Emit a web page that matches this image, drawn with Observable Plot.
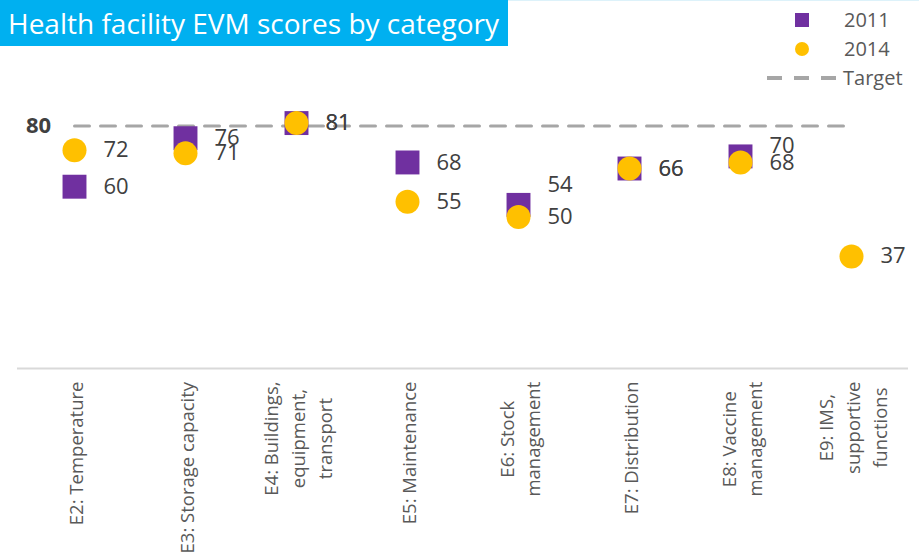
<!DOCTYPE html>
<html>
<head>
<meta charset="utf-8">
<script src="https://cdn.jsdelivr.net/npm/d3@7"></script>
<script src="https://cdn.jsdelivr.net/npm/@observablehq/plot@0.6"></script>
<style>
  body { margin: 0; background: #fff; font-family: "Open Sans", sans-serif; }
  #wrap { position: relative; width: 919px; height: 559px; overflow: hidden; }
  #wrap svg.plot { position: absolute; left: 0; top: 0; }
  #title { position: absolute; left: 0; top: 0; width: 508px; height: 46px; background: #00B0F0; color: #fff;
           font-size: 28px; line-height: 46px; padding-left: 8px; box-sizing: border-box; white-space: nowrap; z-index: 2; }
  #topline { position: absolute; left: 508px; top: 0; width: 411px; height: 1px; background: #DDF2FA; z-index: 2; }
  .leg { position: absolute; z-index: 2; }
  .leg svg { display: block; }
  .legtxt { position: absolute; z-index: 2; font-size: 20px; color: #595959; height: 28px; line-height: 28px; white-space: nowrap; }
</style>
</head>
<body>
<div id="wrap">
  <div id="title">Health facility EVM scores by category</div>
  <div id="topline"></div>
</div>
<script>
// ---- data ----
const categories = [
  "E2: Temperature",
  "E3: Storage capacity",
  "E4: Buildings,\nequipment,\ntransport",
  "E5: Maintenance",
  "E6: Stock\nmanagement",
  "E7: Distribution",
  "E8: Vaccine\nmanagement",
  "E9: IMS,\nsupportive\nfunctions"
];
const scores2011 = [60, 76, 81, 68, 54, 66, 70, null];
const scores2014 = [72, 71, 81, 55, 50, 66, 68, 37];
const target = 80;
const seriesNames = ["2011", "2014"];
const targetName = "Target";

// ---- styling ----
const purple = "#7030A0", gold = "#FFC000", gray = "#A6A6A6", textCol = "#404040";
// manual label nudges (pixels) for crowded labels, as in the original
const labelNudge = { "E6: Stock\nmanagement": -20, "E8: Vaccine\nmanagement": -10 };

const rows11 = categories.map((c, i) => ({cat: c, v: scores2011[i]})).filter(d => d.v != null);
const rows14 = categories.map((c, i) => ({cat: c, v: scores2014[i]})).filter(d => d.v != null);

const nudges = Array.from(new Set(rows11.map(d => labelNudge[d.cat] || 0)));
const labelMarks11 = nudges.map(n => Plot.text(rows11.filter(d => (labelNudge[d.cat] || 0) === n), {
  x: "cat", y: "v", text: d => String(d.v), dx: 29, dy: n, textAnchor: "start",
  fontSize: 22, fill: textCol
}));

const plot = Plot.plot({
  width: 919, height: 559,
  marginLeft: 17, marginRight: 11, marginTop: 65, marginBottom: 191,
  x: {type: "point", domain: categories, padding: 0.5, axis: null},
  y: {domain: [0, 100], axis: null},
  style: {fontFamily: "'Open Sans', sans-serif", background: "transparent", overflow: "visible"},
  marks: [
    Plot.ruleY([0], {stroke: "#D9D9D9", strokeWidth: 2}),
    Plot.text(categories, {
      x: d => d, text: d => d, frameAnchor: "bottom", dy: 13, rotate: -90,
      textAnchor: "middle", lineAnchor: "middle", lineHeight: 1.45, fontSize: 18.5, fill: "#595959"
    }),
    Plot.line([{c: categories[0]}, {c: categories[categories.length - 1]}], {
      x: "c", y: () => target, stroke: gray, strokeWidth: 3, strokeDasharray: "15,11"
    }),
    Plot.text([target], {
      x: () => categories[0], y: d => d, text: d => String(d), dx: -36,
      fontWeight: "bold", fontSize: 22, fill: textCol
    }),
    Plot.dot(rows11, {x: "cat", y: "v", symbol: "square", r: 13.5, fill: purple}),
    Plot.dot(rows14, {x: "cat", y: "v", symbol: "circle", r: 12, fill: gold}),
    ...labelMarks11,
    Plot.text(rows14, {
      x: "cat", y: "v", text: d => String(d.v), dx: 29, textAnchor: "start",
      fontSize: 22, fill: textCol
    })
  ]
});
plot.classList.add("plot");
const wrap = document.getElementById("wrap");
wrap.append(plot);

// align rotated multi-line category labels: block top at axis, lines centred
plot.querySelectorAll("text").forEach(t => {
  const tr = t.getAttribute("transform") || "";
  if (tr.includes("rotate(-90)")) {
    const w = t.getBBox().width;
    t.setAttribute("transform", tr + ` translate(${-w / 2},0)`);
  }
});

// ---- legend (HTML) ----
function add(el, cls, css, txt) {
  const d = document.createElement(el);
  d.className = cls;
  Object.assign(d.style, css);
  if (txt != null) d.textContent = txt;
  wrap.append(d);
  return d;
}
add("div", "leg", {left: "795px", top: "13px", width: "14px", height: "14px", background: purple});
add("div", "legtxt", {left: "844px", top: "6px"}, seriesNames[0]);
add("div", "leg", {left: "795px", top: "42px", width: "14px", height: "14px", background: gold, borderRadius: "50%"});
add("div", "legtxt", {left: "844px", top: "35px"}, seriesNames[1]);
const ls = add("div", "leg", {left: "767px", top: "76px", width: "71px", height: "4px"});
ls.innerHTML = `<svg width="71" height="4"><line x1="0" y1="2" x2="71" y2="2" stroke="${gray}" stroke-width="4" stroke-dasharray="15,12" stroke-linecap="butt"/></svg>`;
add("div", "legtxt", {left: "843px", top: "64px"}, targetName);
</script>
</body>
</html>
